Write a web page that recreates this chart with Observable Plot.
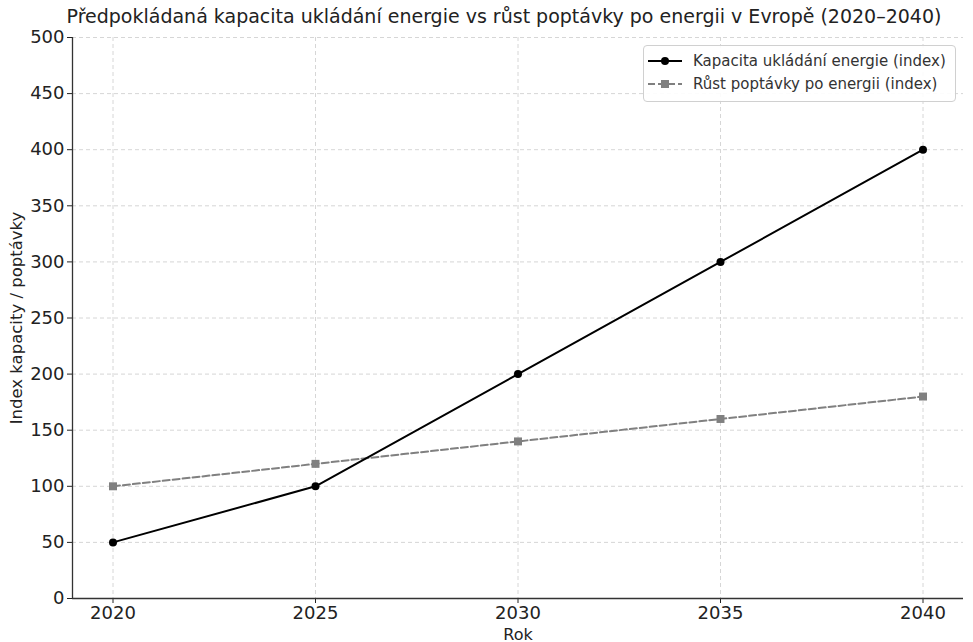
<!DOCTYPE html>
<html><head><meta charset="utf-8">
<script src="https://cdn.jsdelivr.net/npm/d3@7"></script>
<script src="https://cdn.jsdelivr.net/npm/@observablehq/plot@0.6"></script>
<style>
body{margin:0;background:#fff;font-family:"DejaVu Sans",sans-serif;}
#wrap{position:relative;width:973px;height:642px;}
#title{position:absolute;left:0;top:5px;width:1008px;text-align:center;font-size:19px;color:#222;white-space:nowrap;z-index:2;}
#chart{position:absolute;left:0;top:0;}
#legend{position:absolute;left:643px;top:45px;width:311px;height:55px;border:1px solid #d0d0d0;border-radius:4px;background:rgba(255,255,255,0.9);font-size:15px;color:#333;z-index:2;}
.row{position:absolute;left:4px;height:20px;display:flex;align-items:center;}
.row svg{margin-right:11px;}
</style></head><body>
<div id="wrap">
<div id="title">Předpokládaná kapacita ukládání energie vs růst poptávky po energii v Evropě (2020–2040)</div>
<div id="chart"></div>
<div id="legend">
<div class="row" style="top:5px"><svg width="34" height="12"><line x1="0" y1="6" x2="34" y2="6" stroke="#000" stroke-width="2"/><circle cx="17" cy="6" r="4" fill="#000"/></svg>Kapacita ukládání energie (index)</div>
<div class="row" style="top:28px"><svg width="34" height="12"><line x1="0" y1="6" x2="34" y2="6" stroke="#808080" stroke-width="2" stroke-dasharray="7,3"/><rect x="13" y="2" width="8" height="8" fill="#808080"/></svg>Růst poptávky po energii (index)</div>
</div>
</div>
<script>
const years = [2020, 2025, 2030, 2035, 2040];
const storage = [50, 100, 200, 300, 400];
const demand = [100, 120, 140, 160, 180];
const yTicks = [0, 50, 100, 150, 200, 250, 300, 350, 400, 450, 500];
const xTicks = [2020, 2025, 2030, 2035, 2040];

const s1 = years.map((y, i) => ({year: y, v: storage[i]}));
const s2 = years.map((y, i) => ({year: y, v: demand[i]}));

const chart = Plot.plot({
  width: 973, height: 642,
  marginTop: 37, marginBottom: 44, marginLeft: 72, marginRight: 10,
  style: {fontFamily: "DejaVu Sans, sans-serif", fontSize: "18px", color: "#222", background: "transparent", overflow: "visible"},
  x: {domain: [2019, 2041], label: null},
  y: {domain: [0, 500], label: null},
  marks: [
    Plot.gridX(xTicks, {stroke: "#ccc", strokeOpacity: 1, strokeDasharray: "4,3", strokeWidth: 0.8}),
    Plot.gridY(yTicks, {stroke: "#ccc", strokeOpacity: 1, strokeDasharray: "4,3", strokeWidth: 0.8}),
    Plot.axisX({ticks: xTicks, tickFormat: d => String(d), tickSize: 5, tickPadding: 3, fontSize: 18, label: null}),
    Plot.axisY({ticks: yTicks, tickSize: 5, tickPadding: 3, fontSize: 18, label: null}),
    Plot.ruleY([0], {stroke: "#333", strokeWidth: 1.3}),
    Plot.ruleX([2019], {stroke: "#333", strokeWidth: 1.3}),
    Plot.line(s2, {x: "year", y: "v", stroke: "#808080", strokeWidth: 2, strokeDasharray: "7,3"}),
    Plot.dot(s2, {x: "year", y: "v", symbol: "square", r: 4.5, fill: "#808080"}),
    Plot.line(s1, {x: "year", y: "v", stroke: "#000", strokeWidth: 2}),
    Plot.dot(s1, {x: "year", y: "v", r: 4, fill: "#000"}),
    Plot.text(["Rok"], {frameAnchor: "bottom", dy: 36, lineAnchor: "middle", fontSize: 16, fill: "#222"}),
    Plot.text(["Index kapacity / poptávky"], {frameAnchor: "left", dx: -56, rotate: -90, textAnchor: "middle", lineAnchor: "middle", fontSize: 16.5, fill: "#222"})
  ]
});
document.getElementById("chart").appendChild(chart);
</script>
</body></html>
